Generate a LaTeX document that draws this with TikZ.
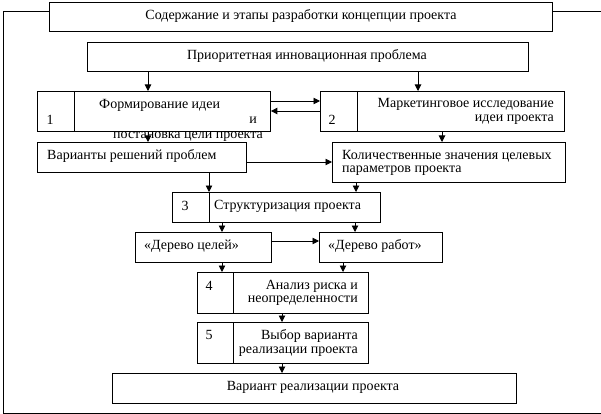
\documentclass[tikz,border=0pt]{standalone}
\usepackage{fontspec}
\setmainfont{Liberation Serif}
\usetikzlibrary{arrows.meta}
\tikzset{
  bx/.style={draw, line width=0.9pt, anchor=north west, inner sep=0pt},
  arr/.style={line width=0.9pt, -{Triangle[length=6.5pt,width=6.5pt]}},
  ln/.style={line width=0.9pt},
  tx/.style={inner sep=0pt, font=\fontsize{14}{16}\selectfont},
}
\begin{document}
\begin{tikzpicture}[x=1pt,y=-1pt]
\useasboundingbox (0,0) rectangle (601,414);
% outer frame
\draw[ln] (50,11) -- (3,11) -- (3,413) -- (601,413);
\draw[ln] (552,11) -- (601,11);
% boxes
\node[bx, minimum width=503, minimum height=29, fill=white] (title) at (49,2) {};
\node[bx, minimum width=441, minimum height=29] (prio) at (87,42) {};
\node[bx, minimum width=233, minimum height=40] (b1) at (37,91) {};
\node[bx, minimum width=244, minimum height=40] (b2) at (320,91) {};
\node[bx, minimum width=209, minimum height=30] (var) at (37,142) {};
\node[bx, minimum width=233, minimum height=40] (quant) at (332,142) {};
\node[bx, minimum width=208, minimum height=30] (b3) at (172,192) {};
\node[bx, minimum width=136, minimum height=30] (goals) at (135,232) {};
\node[bx, minimum width=123, minimum height=30] (works) at (319,232) {};
\node[bx, minimum width=171, minimum height=41] (b4) at (197,272) {};
\node[bx, minimum width=171, minimum height=41] (b5) at (197,322) {};
\node[bx, minimum width=404, minimum height=30] (final) at (112,373) {};
% dividers
\draw[ln] ([xshift=37pt]b1.north west) -- ([xshift=37pt]b1.south west);
\draw[ln] ([xshift=37pt]b2.north west) -- ([xshift=37pt]b2.south west);
\draw[ln] ([xshift=37pt]b3.north west) -- ([xshift=37pt]b3.south west);
\draw[ln] ([xshift=36pt]b4.north west) -- ([xshift=36pt]b4.south west);
\draw[ln] ([xshift=36pt]b5.north west) -- ([xshift=36pt]b5.south west);
% texts
\node[tx] (t0) at (301,16) {Содержание и этапы разработки концепции проекта};
\node[tx] (t1) at (307,56) {Приоритетная инновационная проблема};
\node[tx] (n1) at (50,120) {1};
\node[tx, anchor=west] (t2a) at (99,105) {Формирование идеи};
\node[tx] (t2b) at (253,120) {и};
\node[tx, anchor=west] (t2c) at (113,137) {постановка цели проекта};
\node[tx] (n2) at (332,120) {2};
\node[tx, anchor=east] (t3a) at (554,104) {Маркетинговое исследование};
\node[tx, anchor=east] (t3b) at (554,120) {идеи проекта};
\node[tx, anchor=west] (t4) at (47,156) {Варианты решений проблем};
\node[tx, anchor=west] (t5a) at (342,156) {Количественные значения целевых};
\node[tx, anchor=west] (t5b) at (342,171) {параметров проекта};
\node[tx] (n3) at (185,206) {3};
\node[tx, anchor=west] (t6) at (214,206) {Структуризация проекта};
\node[tx, anchor=west] (t7) at (144,246) {«Дерево целей»};
\node[tx, anchor=west] (t8) at (328,246) {«Дерево работ»};
\node[tx] (n4) at (209,286) {4};
\node[tx, anchor=east] (t9a) at (358,286) {Анализ риска и};
\node[tx, anchor=east] (t9b) at (358,301) {неопределенности};
\node[tx] (n5) at (209,335) {5};
\node[tx, anchor=east] (t10a) at (358,336) {Выбор варианта};
\node[tx, anchor=east] (t10b) at (358,352) {реализации проекта};
\node[tx] (t11) at (313,387) {Вариант реализации проекта};
% x guides
\coordinate (x148) at (148,0);
\coordinate (x209) at (209,0);
\coordinate (x222) at (222,0);
\coordinate (x282) at (282,0);
\coordinate (x343) at (343,0);
\coordinate (x355) at (355,0);
\coordinate (x356) at (356,0);
\coordinate (x418) at (418,0);
\coordinate (x442) at (442,0);
\coordinate (y101) at (0,101);
\coordinate (y111) at (0,111);
\coordinate (y162) at (0,162);
\coordinate (y241) at (0,241);
% arrows
\draw[arr] (prio.south -| x148) -- (b1.north -| x148);
\draw[arr] (prio.south -| x418) -- (b2.north -| x418);
\draw[arr] (b1.east |- y101) -- (b2.west |- y101);
\draw[arr] (b2.west |- y111) -- (b1.east |- y111);
\draw[arr] (b1.south -| x148) -- (var.north -| x148);
\draw[arr] (b2.south -| x442) -- (quant.north -| x442);
\draw[arr] (var.east |- y162) -- (quant.west |- y162);
\draw[arr] (var.south -| x209) -- (b3.north -| x209);
\draw[arr] (quant.south -| x356) -- (b3.north -| x356);
\draw[arr] (b3.south -| x222) -- (goals.north -| x222);
\draw[arr] (b3.south -| x355) -- (works.north -| x355);
\draw[arr] (goals.east |- y241) -- (works.west |- y241);
\draw[arr] (goals.south -| x222) -- (b4.north -| x222);
\draw[arr] (works.south -| x343) -- (b4.north -| x343);
\draw[arr] (b4.south -| x282) -- (b5.north -| x282);
\draw[arr] (b5.south -| x282) -- (final.north -| x282);
\end{tikzpicture}
\end{document}
